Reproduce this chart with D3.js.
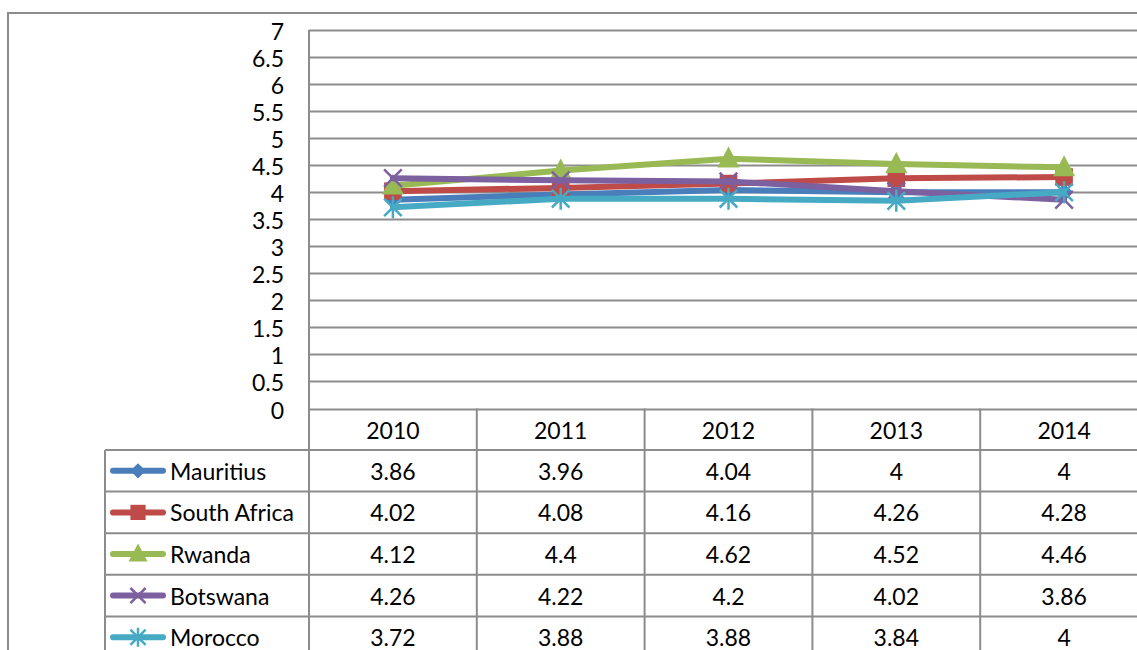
<!DOCTYPE html>
<html>
<head>
<meta charset="utf-8">
<script src="https://cdn.jsdelivr.net/npm/d3@7/dist/d3.min.js"></script>
<style>
  html, body { margin: 0; padding: 0; background: #fff; }
  svg { display: block; }
  text { font-family: Lato, "Open Sans", sans-serif; fill: #000; }
</style>
</head>
<body>
<svg id="chart" width="1137" height="650"></svg>
<script>
// Years on the category axis
const years = ["2010", "2011", "2012", "2013", "2014"];

// Series names and values, one array per country
const seriesNames = ["Mauritius", "South Africa", "Rwanda", "Botswana", "Morocco"];
const mauritius   = [3.86, 3.96, 4.04, 4, 4];
const southAfrica = [4.02, 4.08, 4.16, 4.26, 4.28];
const rwanda      = [4.12, 4.4, 4.62, 4.52, 4.46];
const botswana    = [4.26, 4.22, 4.2, 4.02, 3.86];
const morocco     = [3.72, 3.88, 3.88, 3.84, 4];

// Value axis ticks
const yTicks = [0, 0.5, 1, 1.5, 2, 2.5, 3, 3.5, 4, 4.5, 5, 5.5, 6, 6.5, 7];

const seriesValues = [mauritius, southAfrica, rwanda, botswana, morocco];
const colors = ["#4A7EBB", "#BE4B48", "#98B954", "#7D60A0", "#46AAC5"];
const markers = ["diamond", "square", "triangle", "cross", "star"];

const svg = d3.select("#chart");
const grey = "#8c8c8c";
const fontSize = 23;

const plot = { left: 309, right: 1148, top: 30, bottom: 408.5 };
const table = { left: 105, headerBottom: 450, rowH: 41.6 };

const x = d3.scaleBand().domain(years).range([plot.left, plot.right]);
const y = d3.scaleLinear().domain([0, 7]).range([plot.bottom, plot.top]);

// Outer chart frame
svg.append("rect")
  .attr("x", 8).attr("y", 13)
  .attr("width", 1160).attr("height", 700)
  .attr("fill", "none").attr("stroke", grey).attr("stroke-width", 2);

// Horizontal gridlines
svg.append("g").selectAll("line").data(yTicks).join("line")
  .attr("x1", plot.left).attr("x2", plot.right)
  .attr("y1", d => Math.round(y(d)) + 0.5).attr("y2", d => Math.round(y(d)) + 0.5)
  .attr("stroke", grey).attr("stroke-width", 2);

// Value axis labels
svg.append("g").selectAll("text").data(yTicks).join("text")
  .attr("x", 284).attr("y", d => y(d) + 1)
  .attr("text-anchor", "end").attr("dominant-baseline", "central")
  .attr("font-size", fontSize)
  .text(d => d);

// Vertical axis line
svg.append("line")
  .attr("x1", plot.left).attr("x2", plot.left)
  .attr("y1", plot.top).attr("y2", 660)
  .attr("stroke", grey).attr("stroke-width", 2);

// Data table: column dividers
const colEdges = years.map(yr => x(yr) + x.bandwidth());
svg.append("g").selectAll("line").data(colEdges).join("line")
  .attr("x1", d => d).attr("x2", d => d)
  .attr("y1", plot.bottom).attr("y2", 660)
  .attr("stroke", grey).attr("stroke-width", 2);

// Data table: row dividers
const rowTops = d3.range(seriesNames.length + 1).map(i => table.headerBottom + i * table.rowH);
svg.append("g").selectAll("line").data(rowTops).join("line")
  .attr("x1", table.left).attr("x2", plot.right)
  .attr("y1", d => d).attr("y2", d => d)
  .attr("stroke", grey).attr("stroke-width", 2);

svg.append("line")
  .attr("x1", table.left).attr("x2", table.left)
  .attr("y1", table.headerBottom).attr("y2", 660)
  .attr("stroke", grey).attr("stroke-width", 2);

// Header row with years
svg.append("g").selectAll("text").data(years).join("text")
  .attr("x", d => x(d) + x.bandwidth() / 2)
  .attr("y", (plot.bottom + table.headerBottom) / 2 + 1)
  .attr("text-anchor", "middle").attr("dominant-baseline", "central")
  .attr("font-size", fontSize)
  .text(d => d);

// Marker shapes
function drawMarker(g, type, color, k) {
  if (type === "diamond") {
    g.append("path").attr("d", `M0,${-8 * k}L${8 * k},0L0,${8 * k}L${-8 * k},0Z`).attr("fill", color);
  } else if (type === "square") {
    g.append("rect").attr("x", -8 * k).attr("y", -8 * k)
      .attr("width", 16 * k).attr("height", 16 * k).attr("fill", color);
  } else if (type === "triangle") {
    g.append("path").attr("d", `M0,${-11 * k}L${10 * k},${8 * k}L${-10 * k},${8 * k}Z`).attr("fill", color);
  } else if (type === "cross") {
    g.append("path").attr("d", `M${-8 * k},${-8 * k}L${8 * k},${8 * k}M${-8 * k},${8 * k}L${8 * k},${-8 * k}`)
      .attr("stroke", color).attr("stroke-width", 2.5).attr("fill", "none");
  } else if (type === "star") {
    g.append("path").attr("d", `M${-8 * k},${-8 * k}L${8 * k},${8 * k}M${-8 * k},${8 * k}L${8 * k},${-8 * k}M0,${-10 * k}L0,${10 * k}`)
      .attr("stroke", color).attr("stroke-width", 2.5).attr("fill", "none");
  }
}

// Series lines and markers, drawn series by series
const line = d3.line()
  .x((d, i) => x(years[i]) + x.bandwidth() / 2)
  .y(d => y(d));

seriesValues.forEach((vals, s) => {
  const g = svg.append("g");
  g.append("path").datum(vals)
    .attr("d", line)
    .attr("fill", "none").attr("stroke", colors[s])
    .attr("stroke-width", 6).attr("stroke-linejoin", "round").attr("stroke-linecap", "round");
  vals.forEach((v, i) => {
    const m = g.append("g")
      .attr("transform", `translate(${x(years[i]) + x.bandwidth() / 2},${y(v)})`);
    drawMarker(m, markers[s], colors[s], 1.1);
  });
});

// Table rows: legend key, name and values
seriesNames.forEach((name, s) => {
  const cy = rowTops[s] + table.rowH / 2;
  const key = svg.append("g");
  key.append("line")
    .attr("x1", 113).attr("x2", 163).attr("y1", cy).attr("y2", cy)
    .attr("stroke", colors[s]).attr("stroke-width", 6).attr("stroke-linecap", "round");
  const m = key.append("g").attr("transform", `translate(138,${cy})`);
  drawMarker(m, markers[s], colors[s], 0.95);

  svg.append("text")
    .attr("x", 170).attr("y", cy)
    .attr("dominant-baseline", "central")
    .attr("font-size", fontSize)
    .text(name);

  svg.append("g").selectAll("text").data(seriesValues[s]).join("text")
    .attr("x", (d, i) => x(years[i]) + x.bandwidth() / 2)
    .attr("y", cy)
    .attr("text-anchor", "middle").attr("dominant-baseline", "central")
    .attr("font-size", fontSize)
    .text(d => d);
});
</script>
</body>
</html>
